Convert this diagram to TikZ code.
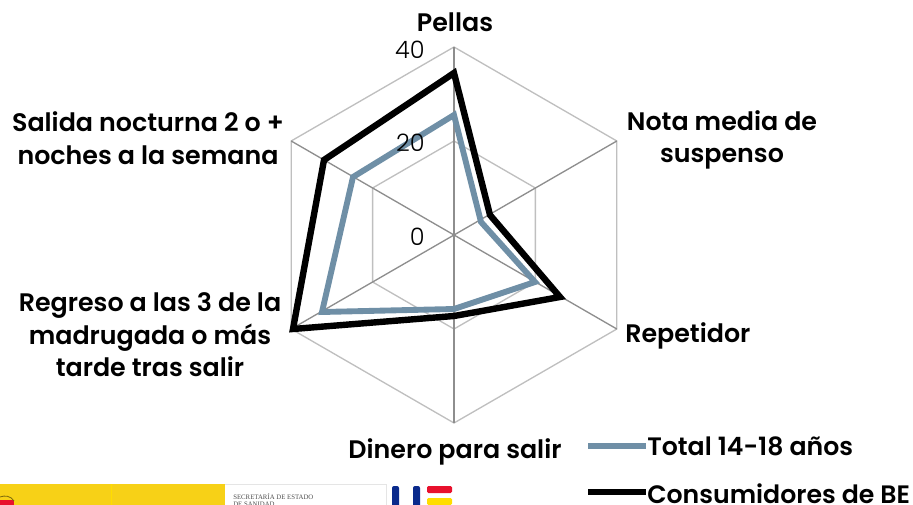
\documentclass[tikz,border=0pt]{standalone}
\usepackage{fontspec}
\setmainfont{Poppins}
\newfontfamily\liberserif{Liberation Serif}
\newfontfamily\lightfont{Poppins Light}
\newfontfamily\semifont{Poppins SemiBold}
\definecolor{gridlight}{HTML}{BFBFBF}
\definecolor{gridaxis}{HTML}{8E8E8E}
\definecolor{serieblue}{HTML}{6F8FA6}
\definecolor{flagyellow}{HTML}{F7D117}
\definecolor{flagyellowb}{HTML}{FFDD00}
\definecolor{flagblue}{HTML}{0A2A8C}
\definecolor{flagred}{HTML}{E8112D}
\tikzset{
 x=0.75pt,y=-0.75pt,
 ring/.style={draw=gridlight,line width=1pt},
 axisline/.style={draw=gridaxis,line width=1pt},
 serieb/.style={draw=serieblue,line width=4.4pt,line join=miter,miter limit=3},
 seriek/.style={draw=black,line width=4.8pt,line join=miter,miter limit=3},
 catlabel/.style={font=\semifont\fontsize{19}{24.3}\selectfont,align=center,inner sep=0pt,text=black},
 legendlabel/.style={font=\semifont\fontsize{18.9}{20}\selectfont,inner sep=0pt,text=black},
 ticklabel/.style={font=\lightfont\fontsize{18}{20}\selectfont,inner sep=0pt,text=black},
}
\begin{document}
\begin{tikzpicture}
\useasboundingbox (0,0) rectangle (913,505);
\clip (0,0) rectangle (913,505);
\coordinate (c) at (454,235);
\foreach \r in {188,94}{
 \draw[ring] (c) ++(0,-\r) -- ++(0.866*\r,0.5*\r) -- ++(0,\r) -- ++(-0.866*\r,0.5*\r) -- ++(-0.866*\r,-0.5*\r) -- ++(0,-\r) -- cycle;
}
\foreach \a in {90,30,-30,-90,-150,150}{
 \draw[axisline] (c) -- ++(\a:188);
}
\path (454,73) coordinate (k1) (490,215) coordinate (k2) (560,297) coordinate (k3) (454,316) coordinate (k4) (293,329) coordinate (k5) (324,160) coordinate (k6);
\path (454,115) coordinate (b1) (481,222) coordinate (b2) (535,282) coordinate (b3) (454,309) coordinate (b4) (322,312) coordinate (b5) (353,177) coordinate (b6);
\draw[serieb] (b1)--(b2)--(b3)--(b4)--(b5)--(b6)--cycle;
\draw[seriek] (k1)--(k2)--(k3)--(k4)--(k5)--(k6)--cycle;
\node[ticklabel,anchor=east] (t40) at (425,50) {40};
\node[ticklabel,anchor=east] (t20) at (425,143) {20};
\node[ticklabel,anchor=east] (t0) at (425,237) {0};
\node[catlabel] (l1) at (455,22) {Pellas};
\node[catlabel] (l2) at (722,140) {Nota media de\\suspenso};
\node[catlabel,anchor=west] (l3) at (625,336) {Repetidor};
\node[catlabel] (l4) at (455,452) {Dinero para salir};
\node[catlabel] (l5) at (148,138) {Salida nocturna 2 o +\\noches a la semana};
\node[catlabel] (l6) at (150,335) {Regreso a las 3 de la\\madrugada o más\\tarde tras salir};
\coordinate (lb1) at (588,446); \coordinate (lb2) at (646,446);
\coordinate (lk1) at (588,492); \coordinate (lk2) at (646,492);
\draw[serieb] (lb1)--(lb2);
\draw[seriek] (lk1)--(lk2);
\node[legendlabel,anchor=west] (lgb) at (647,446) {Total 14-18 años};
\node[legendlabel,anchor=west] (lgk) at (647,494) {Consumidores de BE};
% logo strip
\fill[flagyellow] (0,484) rectangle (225,505);
\draw[flagyellowb,line width=.5pt] (111,484) -- (111,505);
\fill[flagred] (0,500) rectangle (14,505);
\draw[black!50!flagyellow,line width=.6pt] (0,497) .. controls (5,495) and (11,496) .. (14,501);
\draw[gridlight!40,line width=.5pt] (225,484) -- (386,484) -- (386,505);
\node[anchor=west,inner sep=0pt,font=\liberserif\fontsize{5.1}{5.8}\selectfont,align=left,text=black!70] (sec) at (233,500) {SECRETARÍA DE ESTADO\\DE SANIDAD};
\fill[flagblue,rounded corners=1.5pt] (392,486) rectangle (399,510);
\fill[flagblue,rounded corners=1.5pt] (413,486) rectangle (420,510);
\fill[flagred,rounded corners=1pt] (427,486) rectangle (452,493);
\fill[flagyellowb,rounded corners=1pt] (427,498) rectangle (452,505);
\end{tikzpicture}
\end{document}
